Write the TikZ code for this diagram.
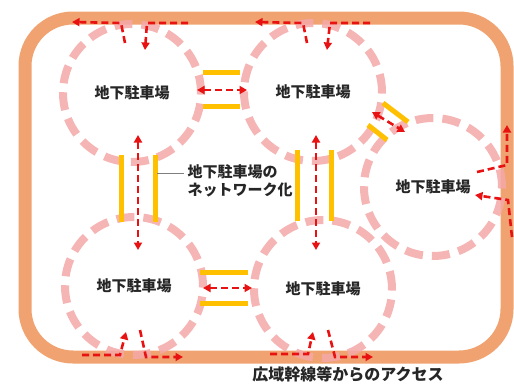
\documentclass[tikz,border=0pt]{standalone}
\usepackage{fontspec}
\setmainfont{Noto Sans CJK JP}
\usetikzlibrary{arrows.meta}

\definecolor{roadorange}{RGB}{240,163,112}
\definecolor{lotpink}{RGB}{245,168,168}
\definecolor{linkgold}{RGB}{255,192,0}
\definecolor{accessred}{RGB}{232,18,18}

\tikzset{
  road/.style={draw=roadorange,line width=13pt,rounded corners=48pt},
  lot/.style={circle,draw=lotpink,draw opacity=.85,line width=8pt,
    dash pattern=on 18pt off 9pt,minimum size=138pt,inner sep=0pt,
    font=\bfseries\fontsize{15}{15}\selectfont,text=black!85},
  bar/.style={draw=linkgold,line width=5pt},
  access/.style={draw=accessred,line width=2.6pt,dash pattern=on 7pt off 4pt,
    -{Triangle[length=7.5pt,width=8pt]}},
  twoway/.style={access,{Triangle[length=7.5pt,width=8pt]}-{Triangle[length=7.5pt,width=8pt]}},
  leader/.style={draw=gray,line width=.6pt},
  caption/.style={font=\bfseries\fontsize{15}{17.5}\selectfont,text=black!85,align=left}
}

\begin{document}
\begin{tikzpicture}[x=1pt,y=-1pt]
  \useasboundingbox (0,0) rectangle (514,383);
  \draw[road] (25,18) rectangle (507,357);

  \foreach \n/\x/\y in {1/132/93,2/313/92,3/433/187,4/134/286,5/323/289} {
    \node[lot] (\n) at (\x,\y) {地下駐車場};
  }

  \draw[bar] (203,72)--(240,72);
  \draw[bar] (203,106)--(240,106);
  \draw[bar] (121,155)--(121,222);
  \draw[bar] (155,155)--(155,222);
  \draw[bar] (297,150)--(297,221);
  \draw[bar] (331,150)--(331,221);
  \draw[bar] (200,272)--(248,272);
  \draw[bar] (200,303)--(248,303);
  \draw[bar] (383,103)--(408,122);
  \draw[bar] (368,125)--(387,140);

  \foreach \n/\s/\e in {12/{197,90}/{247,90},14/{138,135}/{138,250},
      25/{316,135}/{316,250},45/{203,288}/{252,288},23/{372,112}/{405,132}} {
    \coordinate (\n s) at (\s);
    \coordinate (\n e) at (\e);
    \draw[twoway] (\n s) -- (\n e);
  }

  \foreach \n/\s/\m/\e in {
      1o/{125,43}/{121,23}/{72,22},   1i/{188,23}/{147,23}/{145,50},
      2o/{307,43}/{303,23}/{255,22},  2i/{370,23}/{330,23}/{327,50},
      3o/{477,172}/{507,165}/{507,125}, 3i/{512,237}/{508,200}/{475,195},
      4o/{82,355}/{120,355}/{126,332},  4i/{140,330}/{146,357}/{183,357},
      5o/{270,354}/{308,354}/{313,332}, 5i/{328,330}/{335,357}/{373,357}} {
    \coordinate (\n s) at (\s);
    \coordinate (\n e) at (\e);
    \draw[access] (\n s) -- (\m) -- (\n e);
  }

  \node[caption,anchor=west] (net) at (184,181) {地下駐車場の\\ネットワーク化};
  \coordinate (lead) at (157,173);
  \draw[leader] (lead) -- (lead -| net.west);

  \node[font=\bfseries\fontsize{16}{16}\selectfont,text=black!85] (access) at (348,374) {広域幹線等からのアクセス};
\end{tikzpicture}
\end{document}
